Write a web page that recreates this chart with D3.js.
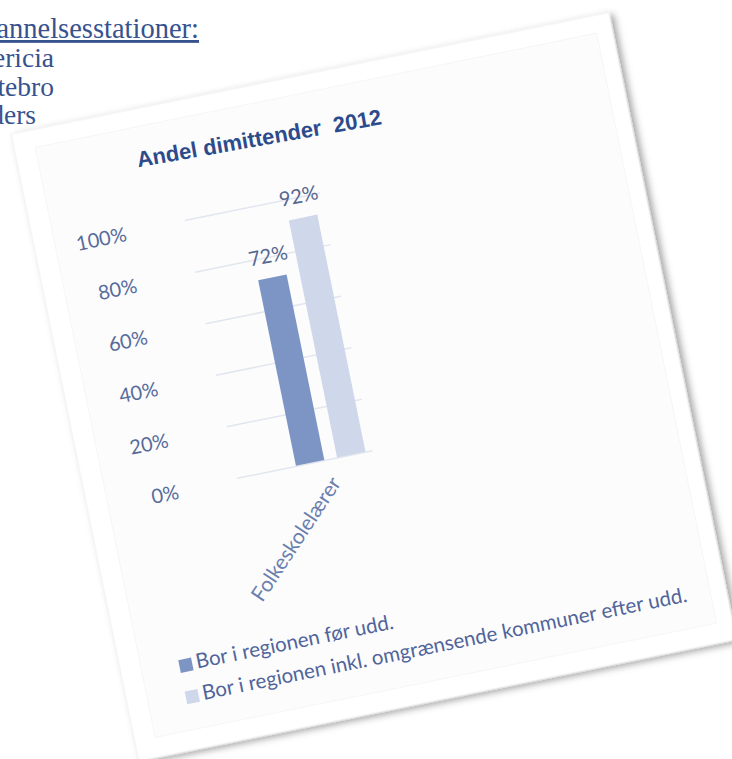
<!DOCTYPE html>
<html>
<head>
<meta charset="utf-8">
<script src="https://cdn.jsdelivr.net/npm/d3@7"></script>
<style>
  body { margin: 0; background: #fff; }
  text { white-space: pre; }
</style>
</head>
<body>
<div id="chart"></div>
<script>
// values
const categories = ["Folkeskolelærer"];
const seriesNames = ["Bor i regionen før udd.", "Bor i regionen inkl. omgrænsende kommuner efter udd."];
const seriesValues = [72, 92]; // one value per series, for the single category
const yTicks = [0, 20, 40, 60, 80, 100];
const chartTitle = "Andel dimittender  2012";
// the page behind the card is cut off at the left edge of the picture
const docLines = ["annelsesstationer:", "ericia", "tebro", "ders"];

const colors = ["#7d95c4", "#cfd8ea"];

const svg = d3.select("#chart")
  .append("svg")
  .attr("width", 732)
  .attr("height", 759);

const defs = svg.append("defs");
defs.append("filter")
  .attr("id", "shadow")
  .attr("x", "-10%").attr("y", "-10%")
  .attr("width", "120%").attr("height", "120%")
  .append("feDropShadow")
  .attr("dx", 4).attr("dy", 3)
  .attr("stdDeviation", 3.5)
  .attr("flood-color", "#000")
  .attr("flood-opacity", 0.35);

const docX = [199, 54, 54, 36];
const docY = [38, 67, 96, 124];
svg.append("g")
  .selectAll("text")
  .data(docLines)
  .enter()
  .append("text")
  .attr("x", (d, i) => docX[i])
  .attr("y", (d, i) => docY[i])
  .attr("text-anchor", "end")
  .style("font-family", "'Liberation Serif', serif")
  .style("font-size", (d, i) => (i === 0 ? "28.5px" : "27.5px"))
  .style("fill", "#36528f")
  .style("text-decoration", (d, i) => (i === 0 ? "underline" : "none"))
  .text((d) => d);

// the tilted card holding the chart
const card = svg.append("g")
  .attr("transform", "translate(11,134) rotate(-11.5)");

card.append("rect")
  .attr("width", 610)
  .attr("height", 640)
  .attr("fill", "#fff")
  .attr("stroke", "#ececec")
  .attr("stroke-width", 0.8)
  .attr("filter", "url(#shadow)");

card.append("rect")
  .attr("x", 21).attr("y", 18)
  .attr("width", 573).attr("height", 602)
  .attr("fill", "#fcfcfd")
  .attr("stroke", "#f5f6f7");

card.append("text")
  .attr("x", 118)
  .attr("y", 58)
  .attr("transform", "rotate(1.5,118,58)")
  .style("font-family", "'Liberation Sans', Arial, sans-serif")
  .style("font-weight", "bold")
  .style("font-size", "22px")
  .style("fill", "#2d4b8a")
  .text(chartTitle);

const plot = { left: 153, right: 291, top: 119, bottom: 382 };

const y = d3.scaleLinear()
  .domain([0, 100])
  .range([plot.bottom, plot.top]);

const x0 = d3.scaleBand()
  .domain(categories)
  .range([plot.left, plot.right])
  .paddingInner(0)
  .paddingOuter(0.472)
  .align(0.896);

const x1 = d3.scaleBand()
  .domain(seriesNames)
  .range([0, x0.bandwidth()])
  .paddingInner(0.31);

// y axis with gridlines
const yAxis = card.append("g")
  .attr("transform", `translate(${plot.left},0)`)
  .call(d3.axisLeft(y)
    .tickValues(yTicks)
    .tickSize(-(plot.right - plot.left))
    .tickPadding(60)
    .tickFormat((d) => d + "%"));

yAxis.select(".domain").remove();
yAxis.selectAll(".tick line")
  .attr("stroke", "#e2e6ef")
  .attr("stroke-width", 1.5);
yAxis.selectAll(".tick text")
  .attr("dy", "0.42em")
  .style("font-family", "Lato, sans-serif")
  .style("font-size", "20px")
  .style("fill", "#576b9b");

// bars
const bars = card.append("g")
  .attr("transform", `translate(${x0(categories[0])},0)`);

bars.selectAll("rect")
  .data(seriesValues)
  .enter()
  .append("rect")
  .attr("x", (d, i) => x1(seriesNames[i]))
  .attr("y", (d) => y(d))
  .attr("width", x1.bandwidth())
  .attr("height", (d) => y(0) - y(d))
  .attr("fill", (d, i) => colors[i]);

bars.selectAll("text")
  .data(seriesValues)
  .enter()
  .append("text")
  .attr("x", (d, i) => x1(seriesNames[i]) + x1.bandwidth() / 2)
  .attr("y", (d) => y(d) - 15)
  .attr("text-anchor", "middle")
  .style("font-family", "Lato, sans-serif")
  .style("font-size", "20px")
  .style("fill", "#55678f")
  .text((d) => d + "%");

// category axis
const xAxis = card.append("g")
  .attr("transform", `translate(0,${plot.bottom})`)
  .call(d3.axisBottom(x0).tickSize(0).tickPadding(0));

xAxis.select(".domain").remove();
xAxis.selectAll(".tick text")
  .attr("transform", "translate(6,26) rotate(-45)")
  .attr("dy", "0")
  .style("text-anchor", "end")
  .style("font-family", "Lato, sans-serif")
  .style("font-size", "21px")
  .style("fill", "#6a7fae");

// legend
const legend = card.append("g")
  .selectAll("g")
  .data(seriesNames)
  .enter()
  .append("g")
  .attr("transform", (d, i) => `translate(59,${549 + i * 32})`);

legend.append("rect")
  .attr("width", 13)
  .attr("height", 13)
  .attr("fill", (d, i) => colors[i]);

legend.append("text")
  .attr("x", 17)
  .attr("y", 12)
  .style("font-family", "Lato, sans-serif")
  .style("font-size", "20.5px")
  .style("fill", "#50649a")
  .text((d) => d);
</script>
</body>
</html>
